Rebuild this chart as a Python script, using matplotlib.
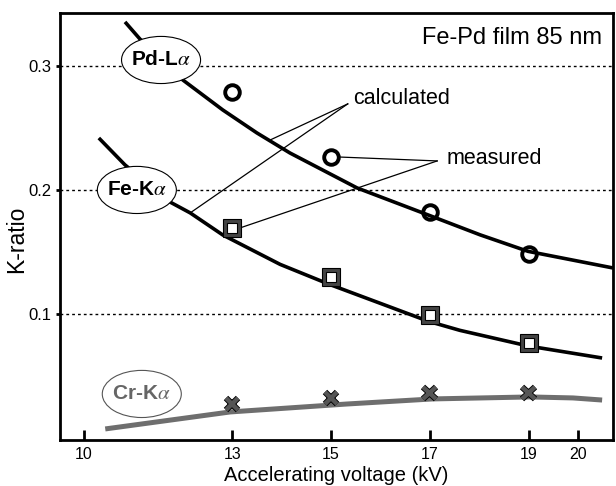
import matplotlib
matplotlib.use("Agg")
import matplotlib.pyplot as plt
from matplotlib.patches import Ellipse
import matplotlib.patheffects as pe

plt.rcParams['font.family'] = ['Liberation Sans', 'DejaVu Sans']
plt.rcParams['mathtext.fontset'] = 'stix'

# ---- data ----
voltages = [13, 15, 17, 19]
pd_measured = [0.279, 0.2266, 0.182, 0.148]
fe_measured = [0.169, 0.130, 0.0992, 0.0766]
cr_measured = [0.0274, 0.0323, 0.0363, 0.0363]

pd_calc_kv = [10.83, 11.13, 12.00, 12.81, 13.50, 14.17, 15.53, 17.01, 18.02, 18.99, 20.71]
pd_calc_k = [0.3355, 0.3218, 0.2887, 0.2645, 0.2460, 0.2298, 0.2016, 0.1792, 0.1638, 0.1505, 0.1371]

fe_calc_kv = [10.30, 10.83, 11.74, 12.15, 12.81, 13.97, 14.96, 16.98, 17.61, 18.99, 20.49]
fe_calc_k = [0.2419, 0.2202, 0.1903, 0.1815, 0.1637, 0.1400, 0.1240, 0.0940, 0.0868, 0.0742, 0.0645]

cr_calc_kv = [10.43, 12.96, 15.32, 17.06, 19.03, 19.90, 20.49]
cr_calc_k = [0.0073, 0.0210, 0.0274, 0.0315, 0.0331, 0.0323, 0.0306]

x_ticks = [10, 13, 15, 17, 19, 20]
y_ticks = [0.1, 0.2, 0.3]
y_tick_labels = ['0.1', '0.2', '0.3']

# ---- figure ----
fig = plt.figure(figsize=(6.16, 4.86), dpi=100)
ax = fig.add_axes([0.0974, 0.0947, 0.8977, 0.8786])
ax.set_xlim(9.514, 20.71)
ax.set_ylim(-0.0016, 0.3427)

for s in ax.spines.values():
    s.set_linewidth(2)

ax.set_xticks(x_ticks)
ax.set_xticklabels([str(t) for t in x_ticks])
ax.set_yticks(y_ticks)
ax.set_yticklabels(y_tick_labels)
ax.tick_params(axis='x', direction='in', length=7, width=2, labelsize=11.5, pad=5)
ax.tick_params(axis='y', direction='out', length=3, width=2, labelsize=12, pad=3)

for yv in y_ticks:
    ax.axhline(yv, color='black', lw=1, ls=(0, (2, 2.2)), zorder=1)

ax.set_xlabel('Accelerating voltage (kV)', fontsize=14.5, labelpad=3)
ax.set_ylabel('K-ratio', fontsize=16.5)
ax.yaxis.set_label_coords(-0.058, 0.47)

# calculated curves
ax.plot(pd_calc_kv, pd_calc_k, color='black', lw=2.6, zorder=3, solid_capstyle='butt')
ax.plot(fe_calc_kv, fe_calc_k, color='black', lw=2.6, zorder=3, solid_capstyle='butt')
ax.plot(cr_calc_kv, cr_calc_k, color='#6e6e6e', lw=3.6, zorder=3, solid_capstyle='butt')

# annotation lines
calc_txt = (15.45, 0.2734)
calc_from = (15.34, 0.2694)
calc_to = [(13.77, 0.2403), (12.15, 0.1815)]
meas_txt = (17.35, 0.2250)
meas_from = (17.15, 0.2234)
meas_to = [(15.14, 0.2266), (13.16, 0.1694)]
for p in calc_to:
    ax.plot([calc_from[0], p[0]], [calc_from[1], p[1]], color='black', lw=0.9, zorder=2)
for p in meas_to:
    ax.plot([meas_from[0], p[0]], [meas_from[1], p[1]], color='black', lw=0.9, zorder=2)
ax.text(calc_txt[0], calc_txt[1], 'calculated', fontsize=15.5, ha='left', va='center')
ax.text(meas_txt[0], meas_txt[1], 'measured', fontsize=15.5, ha='left', va='center')

# measured markers
ax.plot(voltages, pd_measured, ls='none', marker='o', ms=10.5, mew=2.8,
        mec='black', mfc='none', zorder=5)
ax.plot(voltages, fe_measured, ls='none', marker='s', ms=13.6, mew=0.8,
        mec='black', mfc='#444444', zorder=5)
ax.plot(voltages, fe_measured, ls='none', marker='s', ms=6.5, mew=0.8,
        mec='black', mfc='white', zorder=6)
ax.plot(voltages, cr_measured, ls='none', marker='x', ms=9, mew=3.2,
        mec='#555555', zorder=5,
        path_effects=[pe.Stroke(linewidth=4.5, foreground='black'), pe.Normal()])

# ellipse labels
labels = [
    ('Pd-L', (11.56, 0.3048), 'black', 'black'),
    ('Fe-K', (11.07, 0.2000), 'black', 'black'),
    ('Cr-K', (11.17, 0.0355), '#666666', '#555555'),
]
for name, (cx, cy), tcol, ecol in labels:
    e = Ellipse((cx, cy), width=1.6, height=0.038, facecolor='white',
                edgecolor=ecol, lw=0.8, zorder=4)
    ax.add_patch(e)
    ax.text(cx, cy, name + r'$\alpha$', fontsize=15, fontweight='bold',
            color=tcol, ha='center', va='center', zorder=7)

ax.text(20.49, 0.3226, 'Fe-Pd film 85 nm', fontsize=17, ha='right', va='center')

fig.savefig('out.png', dpi=100)
